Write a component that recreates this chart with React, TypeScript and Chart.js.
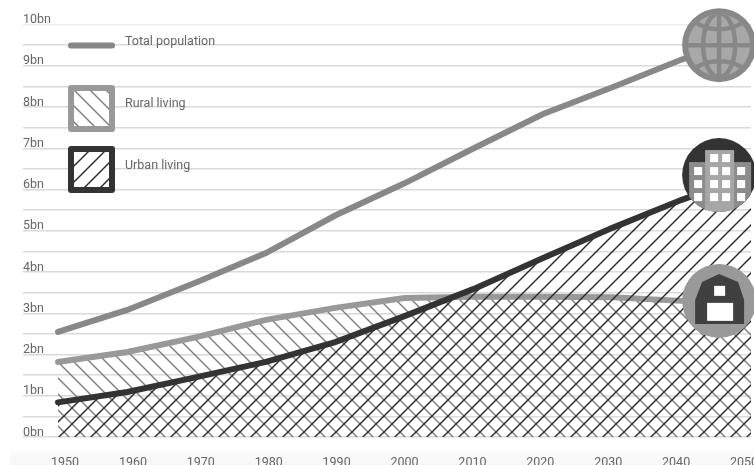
import React, { useEffect, useRef } from "react";
import { Chart, registerables } from "chart.js";

Chart.register(...registerables);

// World population in billions, by decade.
const years = [1950, 1960, 1970, 1980, 1990, 2000, 2010, 2020, 2030, 2040, 2050];
const totalPopulation = [2.55, 3.08, 3.75, 4.46, 5.37, 6.15, 7.0, 7.83, 8.48, 9.15, 9.7];
const ruralLiving = [1.82, 2.06, 2.42, 2.84, 3.13, 3.37, 3.4, 3.4, 3.39, 3.3, 3.2];
const urbanLiving = [0.84, 1.09, 1.45, 1.82, 2.3, 2.93, 3.59, 4.34, 5.07, 5.75, 6.35];
const yTickLabels = ["0bn", "1bn", "2bn", "3bn", "4bn", "5bn", "6bn", "7bn", "8bn", "9bn", "10bn"];
const legendLabels = ["Total population", "Rural living", "Urban living"];

const TOTAL_COLOR = "#888888";
const RURAL_COLOR = "#999999";
const URBAN_COLOR = "#333333";
const TEXT_COLOR = "#666666";
const GRID_COLOR = "#dadada";
const FONT_FAMILY = "Roboto";
const HATCH_TILE = 16;

// Tiled diagonal line used as an area fill.
function makeHatch(ctx: CanvasRenderingContext2D, color: string, rising: boolean, width: number) {
  const tile = document.createElement("canvas");
  tile.width = HATCH_TILE;
  tile.height = HATCH_TILE;
  const t = tile.getContext("2d")!;
  t.strokeStyle = color;
  t.lineWidth = width;
  if (!rising) {
    t.translate(HATCH_TILE, 0);
    t.scale(-1, 1);
  }
  for (const shift of [-HATCH_TILE, 0, HATCH_TILE]) {
    t.beginPath();
    t.moveTo(shift - 2, HATCH_TILE + 2);
    t.lineTo(shift + HATCH_TILE + 2, -2);
    t.stroke();
  }
  return ctx.createPattern(tile, "repeat")!;
}

function drawGlobe(c: CanvasRenderingContext2D, cx: number, cy: number) {
  c.save();
  c.fillStyle = TOTAL_COLOR;
  c.beginPath();
  c.arc(cx, cy, 37, 0, Math.PI * 2);
  c.fill();
  c.beginPath();
  c.arc(cx, cy, 31, 0, Math.PI * 2);
  c.clip();
  c.fillStyle = "#a8a8a8";
  c.fillRect(cx - 32, cy - 32, 64, 64);
  c.strokeStyle = TOTAL_COLOR;
  c.lineWidth = 4.5;
  c.beginPath();
  c.moveTo(cx, cy - 32);
  c.lineTo(cx, cy + 32);
  c.moveTo(cx - 32, cy);
  c.lineTo(cx + 32, cy);
  c.stroke();
  c.beginPath();
  c.ellipse(cx, cy, 16, 32, 0, 0, Math.PI * 2);
  c.stroke();
  c.beginPath();
  c.ellipse(cx, cy - 34, 30, 18, 0, 0, Math.PI);
  c.stroke();
  c.beginPath();
  c.ellipse(cx, cy + 34, 30, 18, 0, Math.PI, Math.PI * 2);
  c.stroke();
  c.restore();
}

function drawBuilding(c: CanvasRenderingContext2D, cx: number, cy: number) {
  c.save();
  c.fillStyle = URBAN_COLOR;
  c.beginPath();
  c.arc(cx, cy, 37, 0, Math.PI * 2);
  c.fill();
  c.clip();
  c.fillStyle = "#8c8c8c";
  c.fillRect(cx - 30, cy - 13, 62, 52);
  c.fillStyle = "#a6a6a6";
  c.fillRect(cx - 14, cy - 25, 29, 64);
  c.fillStyle = "#ffffff";
  for (const dy of [-21, -8, 5, 18]) {
    c.fillRect(cx - 9, cy + dy, 8, 8);
    c.fillRect(cx + 3, cy + dy, 8, 8);
  }
  for (const dy of [-8, 5, 18]) {
    c.fillRect(cx - 25, cy + dy, 8, 8);
    c.fillRect(cx + 18, cy + dy, 8, 8);
  }
  c.restore();
}

function drawBarn(c: CanvasRenderingContext2D, cx: number, cy: number) {
  c.save();
  c.fillStyle = RURAL_COLOR;
  c.beginPath();
  c.arc(cx, cy, 37, 0, Math.PI * 2);
  c.fill();
  c.fillStyle = "#404040";
  c.beginPath();
  c.moveTo(cx - 24, cy + 23);
  c.lineTo(cx - 24, cy - 1);
  c.lineTo(cx - 17, cy - 19);
  c.lineTo(cx, cy - 27);
  c.lineTo(cx + 19, cy - 19);
  c.lineTo(cx + 25, cy - 1);
  c.lineTo(cx + 25, cy + 23);
  c.closePath();
  c.fill();
  c.fillStyle = "#ffffff";
  c.fillRect(cx - 5, cy - 15, 11, 10);
  c.fillRect(cx - 12, cy + 2, 26, 18);
  c.restore();
}

function drawLegendSwatch(c: CanvasRenderingContext2D, top: number, border: string, fill: CanvasPattern) {
  c.fillStyle = "#ffffff";
  c.fillRect(71, top + 3, 41, 41);
  c.fillStyle = fill;
  c.fillRect(71, top + 3, 41, 41);
  c.strokeStyle = border;
  c.lineWidth = 6;
  c.lineJoin = "round";
  c.strokeRect(71, top + 3, 41, 41);
}

export default function App() {
  const ref = useRef<HTMLCanvasElement>(null);

  useEffect(() => {
    const canvas = ref.current!;
    const ctx = canvas.getContext("2d")!;
    const ruralHatch = makeHatch(ctx, "#808080", false, 1.5);
    const urbanHatch = makeHatch(ctx, "#2c2c2c", true, 1.5);

    const decorations = {
      id: "decorations",
      beforeDraw(chart: Chart) {
        const c = chart.ctx;
        const g = c.createLinearGradient(0, 445, 0, 465);
        g.addColorStop(0, "#ffffff");
        g.addColorStop(1, "#f6f6f6");
        c.save();
        c.fillStyle = g;
        c.fillRect(10, 445, 744, 20);
        c.restore();
      },
      afterDatasetsDraw(chart: Chart) {
        const c = chart.ctx;
        const xs = chart.scales.x;
        const ys = chart.scales.y;
        const iconX = xs.getPixelForValue(2045.4);
        c.save();
        drawGlobe(c, iconX, ys.getPixelForValue(9.5));
        drawBuilding(c, iconX, ys.getPixelForValue(6.35));
        drawBarn(c, iconX, ys.getPixelForValue(3.3));

        c.strokeStyle = TOTAL_COLOR;
        c.lineWidth = 6;
        c.lineCap = "round";
        c.beginPath();
        c.moveTo(71, 45.5);
        c.lineTo(112, 45.5);
        c.stroke();
        drawLegendSwatch(c, 85, RURAL_COLOR, ruralHatch);
        drawLegendSwatch(c, 146, URBAN_COLOR, urbanHatch);

        c.fillStyle = TEXT_COLOR;
        c.font = `12.5px ${FONT_FAMILY}`;
        c.textBaseline = "middle";
        c.textAlign = "left";
        c.fillText(legendLabels[0], 125, 42);
        c.fillText(legendLabels[1], 125, 104);
        c.fillText(legendLabels[2], 125, 166);
        c.restore();
      },
    };

    const toPoints = (values: number[]) => values.map((v, i) => ({ x: years[i], y: v }));
    const lineStyle = { pointRadius: 0, borderWidth: 6, borderCapStyle: "round" as const, tension: 0 };

    const chart = new Chart(canvas, {
      type: "line",
      data: {
        datasets: [
          { label: legendLabels[2], data: toPoints(urbanLiving), borderColor: URBAN_COLOR, backgroundColor: urbanHatch, fill: "origin", ...lineStyle },
          { label: legendLabels[1], data: toPoints(ruralLiving), borderColor: RURAL_COLOR, backgroundColor: ruralHatch, fill: "origin", ...lineStyle },
          { label: legendLabels[0], data: toPoints(totalPopulation), borderColor: TOTAL_COLOR, fill: false, ...lineStyle },
        ],
      },
      plugins: [decorations],
      options: {
        responsive: false,
        animation: false,
        layout: { padding: { top: 24.5, left: 23, right: 3, bottom: 0 } },
        plugins: { legend: { display: false }, tooltip: { enabled: false } },
        scales: {
          x: { type: "linear", min: 1944.95, max: 2050, display: false },
          decades: {
            type: "linear",
            axis: "x",
            position: "bottom",
            min: 1943.81,
            max: 2051.03,
            grid: { display: false },
            border: { display: false },
            afterBuildTicks(scale: any) {
              scale.ticks = years.map((value) => ({ value }));
            },
            afterFit(scale: any) {
              scale.height = 28;
              scale.paddingLeft = 0;
              scale.paddingRight = 0;
            },
            ticks: {
              autoSkip: false,
              maxRotation: 0,
              padding: 10,
              color: TEXT_COLOR,
              font: { family: FONT_FAMILY, size: 12.5 },
              callback: (value: any) => String(value),
            },
          },
          y: {
            type: "linear",
            position: "left",
            min: 0,
            max: 10,
            border: { display: false },
            grid: {
              drawTicks: false,
              lineWidth: 1.5,
              color: (c: any) => (c.tick && c.tick.value === 10 ? "#ececec" : GRID_COLOR),
            },
            afterFit(scale: any) {
              scale.paddingTop = 0;
              scale.paddingBottom = 0;
            },
            ticks: {
              stepSize: 0.5,
              autoSkip: false,
              mirror: true,
              padding: 0,
              labelOffset: -4.5,
              color: TEXT_COLOR,
              font: { family: FONT_FAMILY, size: 12.5 },
              callback: (value: any) => (Number.isInteger(value) ? yTickLabels[value] : ""),
            },
          },
        },
      },
    });
    return () => chart.destroy();
  }, []);

  return (
    <canvas
      ref={ref}
      width={754}
      height={465}
      style={{ position: "absolute", left: 0, top: 0, display: "block" }}
    />
  );
}
